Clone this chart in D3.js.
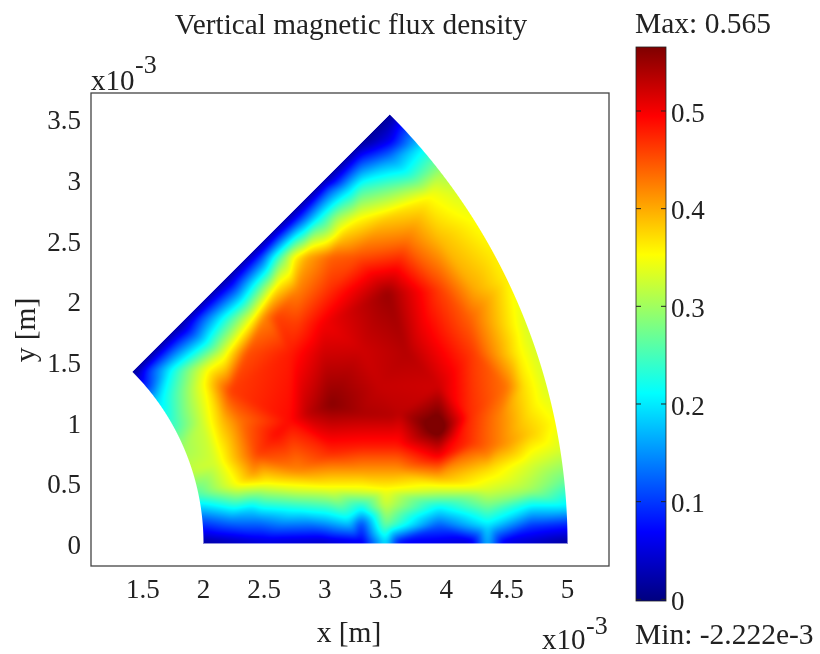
<!DOCTYPE html>
<html>
<head>
<meta charset="utf-8">
<script src="https://cdn.jsdelivr.net/npm/d3@7"></script>
<style>
  body { margin: 0; background: #fff; }
  #wrap { position: relative; width: 820px; height: 654px; overflow: hidden; }
  canvas, svg { position: absolute; left: 0; top: 0; }
  canvas { filter: blur(0.5px); }
  text { font-family: "Liberation Serif", serif; fill: #222; }
</style>
</head>
<body>
<div id="wrap"></div>
<script>
// chart values, x and y in units of 1e-3 m, field in T
var xTicks = [1.5, 2, 2.5, 3, 3.5, 4, 4.5, 5];
var yTicks = [0, 0.5, 1, 1.5, 2, 2.5, 3, 3.5];
var barTicks = [0, 0.1, 0.2, 0.3, 0.4, 0.5];
var fieldMin = -2.222e-3;
var fieldMax = 0.565;
var innerRadius = 2;
var outerRadius = 5;

// jet colormap
var jetStops = [0, 0.125, 0.375, 0.625, 0.875, 1];
var jetColors = ["#00007f", "#0000ff", "#00ffff", "#ffff00", "#ff0000", "#7f0000"];

// mesh nodes
var nodeX = [
  // bottom edge
  2, 2.5, 3, 3.3, 3.5, 3.62, 4.2, 4.34, 4.48, 5,
  // outer arc
  4.997, 4.99, 4.97, 4.94, 4.9, 4.84, 4.75, 4.67, 4.5, 4.38, 4.23, 4.08, 3.95, 3.79, 3.66, 3.535,
  // inner arc
  1.99, 1.96, 1.91, 1.84, 1.75, 1.62, 1.53, 1.414,
  // slanted edge
  1.8, 2.2, 2.6, 3, 3.3,
  // band along the slanted edge
  1.55, 1.73, 1.87, 2.03, 1.97, 2.16, 2.29, 2.41, 2.5, 2.6,
  2.47, 2.58, 2.66, 2.74, 2.85, 3.05, 2.8, 2.95, 3.1, 3.27, 3.5,
  3.03, 3.19, 3.3, 3.54, 3.54, 3.68, 3.54, 3.87, 2.6,
  // left side
  2.0, 2.22, 2.16, 2.3, 2.16, 2.36, 1.98, 2.1, 2.3, 2.52, 2.41, 2.45, 2.72, 2.6,
  // lower band
  2.23, 2.45, 2.4, 2.77, 3, 3.19, 2.77, 2.77, 3.05, 3.05,
  3.3, 3.5, 3.5, 3.5, 3.3, 3.3, 3.3, 3.6, 3.3, 3.6,
  3.94, 3.94, 3.94, 3.94, 3.94, 3.94,
  4.34, 4.34, 4.34, 4.34, 4.34, 4.7, 4.7, 4.7, 4.7, 4.7,
  // hot core
  3.05, 2.86, 3.52, 3.3, 3.68, 3.94, 3.62, 3.3, 3.55, 3.45, 2.99, 2.77, 2.72, 2.99, 3.05, 2.77,
  3.27, 3.68, 3.13, 3.95, 4.23, 3.95, 4.2,
  // right side
  4.45, 4.64, 4.5, 4.23, 4.09, 4.59, 4.37, 4.23, 4.64, 4.45, 4.2
];
var nodeY = [
  0, 0, 0, 0, 0, 0, 0, 0, 0, 0,
  0.16, 0.3, 0.52, 0.77, 1, 1.29, 1.56, 1.78, 2.17, 2.41, 2.66, 2.89, 3.06, 3.26, 3.41, 3.535,
  0.2, 0.41, 0.6, 0.8, 0.97, 1.17, 1.29, 1.414,
  1.8, 2.2, 2.6, 3, 3.3,
  1.43, 1.43, 1.43, 1.43, 1.86, 1.86, 1.86, 1.86, 1.86, 1.86,
  2.36, 2.36, 2.36, 2.36, 2.36, 2.36, 2.68, 2.68, 2.68, 2.68, 2.68,
  2.93, 2.93, 2.93, 3.18, 2.91, 3.05, 3.32, 2.87, 2.09,
  1.32, 1.26, 1.01, 1.01, 1.57, 1.57, 0.99, 0.66, 0.49, 0.49, 0.58, 0.74, 1.01, 0.9,
  0.19, 0.19, 0.3, 0.3, 0.19, 0.19, 0.44, 0.6, 0.46, 0.74,
  0.15, 0.15, 0.3, 0.44, 0.3, 0.44, 0.6, 0.6, 0.8, 0.8,
  0.15, 0.3, 0.44, 0.55, 0.72, 0.95,
  0.15, 0.3, 0.44, 0.6, 0.72, 0.15, 0.3, 0.44, 0.65, 0.9,
  1.14, 1.07, 2.06, 1.6, 1.57, 1.3, 1.07, 1.07, 1.05, 1.3, 1.57, 1.81, 1.57, 1.81, 2.09, 2.09,
  2.36, 2.5, 2.5, 2.5, 2.09, 2.09, 1.85,
  1.05, 1.29, 1.29, 0.82, 0.87, 1.57, 1.57, 1.57, 1.01, 0.82, 1.05
];
var nodeV = [
  0.01, 0.04, 0.03, 0.05, 0.19, 0.06, 0.04, 0.17, 0.05, 0.01,
  0.09, 0.2, 0.27, 0.33, 0.35, 0.33, 0.33, 0.33, 0.36, 0.36, 0.35, 0.33, 0.3, 0.2, 0.1, 0.01,
  0.12, 0.26, 0.32, 0.3, 0.24, 0.19, 0.09, 0,
  0.01, 0.01, 0.01, 0.01, 0.01,
  0.1, 0.21, 0.28, 0.35, 0.1, 0.21, 0.28, 0.35, 0.42, 0.46,
  0.1, 0.21, 0.28, 0.35, 0.4, 0.44, 0.1, 0.21, 0.3, 0.35, 0.38,
  0.1, 0.18, 0.24, 0.14, 0.28, 0.22, 0.06, 0.35, 0.37,
  0.35, 0.46, 0.39, 0.43, 0.33, 0.45, 0.32, 0.33, 0.36, 0.35, 0.41, 0.46, 0.49, 0.49,
  0.14, 0.14, 0.2, 0.23, 0.17, 0.2, 0.33, 0.42, 0.35, 0.47,
  0.1, 0.27, 0.32, 0.35, 0.22, 0.34, 0.41, 0.41, 0.48, 0.48,
  0.12, 0.21, 0.33, 0.4, 0.5, 0.59,
  0.2, 0.27, 0.33, 0.37, 0.42, 0.1, 0.2, 0.3, 0.33, 0.38,
  0.56, 0.53, 0.55, 0.52, 0.535, 0.52, 0.53, 0.54, 0.535, 0.525, 0.52, 0.46, 0.48, 0.5, 0.47, 0.42,
  0.45, 0.43, 0.39, 0.39, 0.4, 0.46, 0.44,
  0.42, 0.37, 0.43, 0.46, 0.49, 0.36, 0.42, 0.46, 0.38, 0.42, 0.47
];

var width = 820, height = 654;
var plot = { left: 91, right: 609, top: 93, bottom: 566 };
var bar = { left: 636, right: 666, top: 47, bottom: 601 };

var x = d3.scaleLinear().domain([1.077, 5.346]).range([plot.left, plot.right]);
var y = d3.scaleLinear().domain([-0.19, 3.709]).range([plot.bottom, plot.top]);
var barScale = d3.scaleLinear().domain([fieldMin, fieldMax]).range([bar.bottom, bar.top]);
var jet = d3.scaleLinear()
  .domain(jetStops.map(t => fieldMin + t * (fieldMax - fieldMin)))
  .range(jetColors)
  .clamp(true);

var wrap = d3.select("#wrap");
var canvas = wrap.append("canvas").attr("width", width).attr("height", height);
var svg = wrap.append("svg").attr("width", width).attr("height", height);

// draw the field: gouraud shaded triangles, cut to the sector
var ctx = canvas.node().getContext("2d");
var image = ctx.createImageData(width, height);
var points = nodeX.map((d, i) => [x(d), y(nodeY[i])]);
var tri = d3.Delaunay.from(points).triangles;
var pxPerUnit = x(1) - x(0);
var field = new Float32Array(width * height).fill(NaN);

function coverage(dx, dy) {
  var r = Math.hypot(dx, dy);
  var dist = Math.min(outerRadius - r, r - innerRadius, dy, dx - dy) * pxPerUnit;
  return Math.max(0, Math.min(1, dist + 0.5));
}

// first pass with some tolerance closes the slivers under the arc, second one is exact
[0.08, 0].forEach(function(eps) {
  for (var t = 0; t < tri.length; t += 3) {
    var a = points[tri[t]], b = points[tri[t + 1]], c = points[tri[t + 2]];
    var va = nodeV[tri[t]], vb = nodeV[tri[t + 1]], vc = nodeV[tri[t + 2]];
    var det = (b[1] - c[1]) * (a[0] - c[0]) + (c[0] - b[0]) * (a[1] - c[1]);
    if (Math.abs(det) < 1e-6) continue;
    var x0 = Math.floor(Math.min(a[0], b[0], c[0])) - 3, x1 = Math.ceil(Math.max(a[0], b[0], c[0])) + 3;
    var y0 = Math.floor(Math.min(a[1], b[1], c[1])) - 3, y1 = Math.ceil(Math.max(a[1], b[1], c[1])) + 3;
    for (var py = y0; py <= y1; py++) {
      for (var px = x0; px <= x1; px++) {
        var l1 = ((b[1] - c[1]) * (px - c[0]) + (c[0] - b[0]) * (py - c[1])) / det;
        var l2 = ((c[1] - a[1]) * (px - c[0]) + (a[0] - c[0]) * (py - c[1])) / det;
        var l3 = 1 - l1 - l2;
        if (l1 < -eps || l2 < -eps || l3 < -eps) continue;
        if (coverage(x.invert(px), y.invert(py)) <= 0) continue;
        field[py * width + px] = l1 * va + l2 * vb + l3 * vc;
      }
    }
  }
});

// soften the mesh creases, only averaging pixels that lie in the sector
function boxBlur(src, rad, step, lines, len, lineStep) {
  var out = new Float32Array(src.length).fill(NaN);
  for (var l = 0; l < lines; l++) {
    for (var i = 0; i < len; i++) {
      var k = l * lineStep + i * step;
      if (isNaN(src[k])) continue;
      var sum = 0, n = 0;
      for (var j = Math.max(0, i - rad); j <= Math.min(len - 1, i + rad); j++) {
        var v = src[l * lineStep + j * step];
        if (!isNaN(v)) { sum += v; n++; }
      }
      out[k] = sum / n;
    }
  }
  return out;
}
for (var pass = 0; pass < 2; pass++) {
  field = boxBlur(field, 3, 1, height, width, width);
  field = boxBlur(field, 3, width, width, height, 1);
}

for (var py = 0; py < height; py++) {
  for (var px = 0; px < width; px++) {
    var val = field[py * width + px];
    if (isNaN(val)) continue;
    var col = d3.rgb(jet(val));
    var k = (py * width + px) * 4;
    image.data[k] = col.r;
    image.data[k + 1] = col.g;
    image.data[k + 2] = col.b;
    image.data[k + 3] = coverage(x.invert(px), y.invert(py)) * 255;
  }
}
ctx.putImageData(image, 0, 0);

// frame
svg.append("rect")
  .attr("x", plot.left).attr("y", plot.top)
  .attr("width", plot.right - plot.left).attr("height", plot.bottom - plot.top)
  .attr("fill", "none").attr("stroke", "#444").attr("stroke-width", 1.3);

// axes
var xAxis = svg.append("g")
  .attr("transform", `translate(0, ${plot.bottom})`)
  .call(d3.axisBottom(x).tickValues(xTicks).tickFormat(d3.format("")).tickSize(0).tickPadding(13));
var yAxis = svg.append("g")
  .attr("transform", `translate(${plot.left}, 2)`)
  .call(d3.axisLeft(y).tickValues(yTicks).tickFormat(d3.format("")).tickSize(0).tickPadding(10));
[xAxis, yAxis].forEach(function(g) {
  g.select(".domain").remove();
  g.selectAll("text").style("font-family", '"Liberation Serif", serif').style("font-size", "27px").attr("fill", "#222");
});

function label(px, py, str, size, anchor) {
  return svg.append("text").attr("x", px).attr("y", py)
    .attr("text-anchor", anchor || "start").style("font-size", size + "px").text(str);
}

label(351, 34, "Vertical magnetic flux density", 29.3, "middle");
label(349, 642, "x [m]", 29.5, "middle");
label(0, 0, "y [m]", 29.5, "middle").attr("transform", "translate(35, 330) rotate(-90)");

// x10^-3 multipliers
label(91, 90, "x10", 29);
label(135, 73, "-3", 26);
label(542, 649, "x10", 29);
label(586, 634, "-3", 26);

// colour bar
var gradient = svg.append("defs").append("linearGradient")
  .attr("id", "jetBar").attr("x1", 0).attr("y1", 1).attr("x2", 0).attr("y2", 0);
gradient.selectAll("stop").data(jetStops).enter().append("stop")
  .attr("offset", d => d)
  .attr("stop-color", (d, i) => jetColors[i]);

svg.append("rect")
  .attr("x", bar.left).attr("y", bar.top)
  .attr("width", bar.right - bar.left).attr("height", bar.bottom - bar.top)
  .attr("fill", "url(#jetBar)").attr("stroke", "#222").attr("stroke-width", 0.8);

var barAxis = svg.append("g")
  .attr("transform", `translate(${bar.right}, 2)`)
  .call(d3.axisRight(barScale).tickValues(barTicks).tickFormat(d3.format("")).tickSize(0).tickPadding(5));
barAxis.select(".domain").remove();
barAxis.selectAll("text").style("font-family", '"Liberation Serif", serif').style("font-size", "27px").attr("fill", "#222");

// little tick marks on both sides of the bar
barAxis.selectAll(".tick").append("line").attr("y1", -2).attr("y2", -2).attr("x1", -5).attr("x2", 0).attr("stroke", "#222");
barAxis.selectAll(".tick").append("line").attr("y1", -2).attr("y2", -2).attr("x1", -30).attr("x2", -25).attr("stroke", "#222");

label(635, 33, "Max: 0.565", 29.5);
label(635, 644, "Min: -2.222e-3", 29.5);
</script>
</body>
</html>
